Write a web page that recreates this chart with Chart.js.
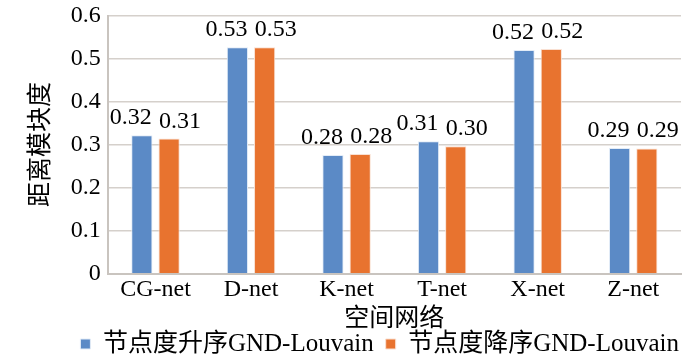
<!DOCTYPE html>
<html>
<head>
<meta charset="utf-8">
<script src="https://cdn.jsdelivr.net/npm/chart.js@4.4.1/dist/chart.umd.min.js"></script>
<style>
html,body{margin:0;padding:0;background:#fff;}
#wrap{width:700px;height:361px;position:relative;}
</style>
</head>
<body>
<div id="wrap"><canvas id="c" width="700" height="361"></canvas></div>
<script>
const categories = ["CG-net", "D-net", "K-net", "T-net", "X-net", "Z-net"];
const seriesNames = ["节点度升序GND-Louvain", "节点度降序GND-Louvain"];
const ascValues = [0.322, 0.526, 0.276, 0.308, 0.520, 0.292];
const descValues = [0.314, 0.526, 0.278, 0.296, 0.522, 0.291];
const yTicks = [0, 0.1, 0.2, 0.3, 0.4, 0.5, 0.6];

const serif = "'Liberation Serif', 'Times New Roman', serif";
const cjk = "'Liberation Serif', 'Noto Sans CJK SC', serif";

const valueLabels = {
  id: 'valueLabels',
  afterDatasetsDraw(chart) {
    const ctx = chart.ctx;
    ctx.save();
    ctx.font = "24px " + serif;
    ctx.fillStyle = "#000";
    ctx.textAlign = "center";
    ctx.textBaseline = "alphabetic";
    chart.data.datasets.forEach((ds, i) => {
      const meta = chart.getDatasetMeta(i);
      const shift = i === 0 ? -11 : 11;
      meta.data.forEach((bar, j) => {
        ctx.fillText(ds.data[j].toFixed(2), bar.x + shift, bar.y - 11);
      });
    });
    ctx.restore();
  }
};

const legendShift = {
  id: 'legendShift',
  afterLayout(chart) {
    if (chart.legend) { chart.legend.right += 10; }
  }
};

new Chart(document.getElementById('c'), {
  type: 'bar',
  data: {
    labels: categories,
    datasets: [
      { label: seriesNames[0], data: ascValues, backgroundColor: '#5B8AC6', borderColor: '#E3ECF7', borderWidth: 1, borderSkipped: 'bottom' },
      { label: seriesNames[1], data: descValues, backgroundColor: '#E8732F', borderColor: '#F9E0D2', borderWidth: 1, borderSkipped: 'bottom' }
    ]
  },
  options: {
    responsive: false,
    animation: false,
    devicePixelRatio: 1,
    layout: { padding: { top: 0, right: 19, left: 0, bottom: -5.5 } },
    datasets: { bar: { categoryPercentage: 0.57, barPercentage: 0.78 } },
    plugins: {
      tooltip: { enabled: false },
      legend: {
        position: 'bottom',
        align: 'end',
        labels: {
          font: { size: 25, family: cjk },
          color: '#000',
          boxWidth: 10,
          boxHeight: 10,
          padding: 12
        }
      }
    },
    scales: {
      x: {
        afterFit(axis) { axis.height = 45.8; },
        grid: { display: false, drawTicks: false },
        border: { color: '#C9C4BF', width: 2 },
        ticks: { font: { size: 24, family: serif }, color: '#000', padding: 1.5 },
        title: { display: true, text: '空间网络', font: { size: 25, family: cjk }, color: '#000', padding: { top: 0, bottom: -15 } }
      },
      y: {
        min: 0, max: 0.6,
        afterFit(axis) { axis.width = 107.7; axis.paddingTop = 15.5; },
        afterBuildTicks(axis) { axis.ticks = yTicks.map(v => ({ value: v })); },
        grid: { color: '#D5D0CB', lineWidth: 1.5, drawTicks: false },
        border: { color: '#C9C4BF', width: 2 },
        ticks: {
          font: { size: 24, family: serif }, color: '#000', padding: 7,
          callback: v => (v === 0 ? '0' : v.toFixed(1))
        },
        title: { display: true, text: '距离模块度', font: { size: 25, family: cjk }, color: '#000', padding: { top: 26, bottom: 0 } }
      }
    }
  },
  plugins: [valueLabels, legendShift]
});
</script>
</body>
</html>
